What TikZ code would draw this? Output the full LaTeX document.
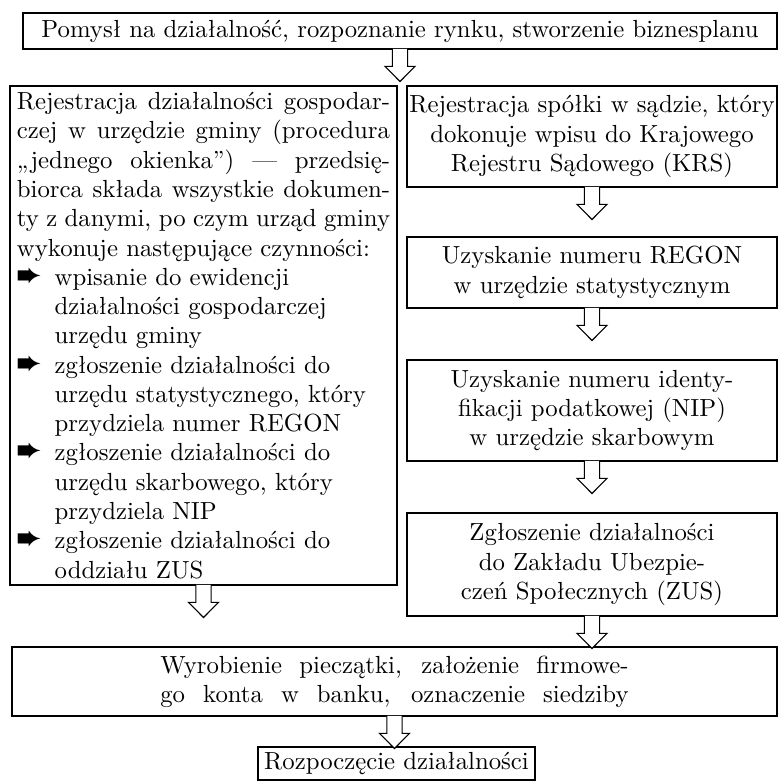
\documentclass[tikz,border=0pt]{standalone}
\usepackage{fontspec}
\usepackage{graphicx}
\usepackage{pifont}
\usetikzlibrary{calc}
\def\px{0.41pt}
\newcommand\myitem{\par\hangindent=15.5pt\hangafter=1\noindent\makebox[15.5pt][l]{\scalebox{1.12}{\ding{232}}}}
\tikzset{
  box/.style={draw, line width=0.45pt, inner sep=0pt, font=\fontsize{10.15pt}{12pt}\selectfont},
  blk/.style={draw, fill=white, line width=0.45pt, line join=miter,
    to path={let \p1=(\tikztostart) in
      (\x1-3.1pt,\y1+0.25pt) -- (\x1-3.1pt,\y1-6.9pt) -- (\x1-6.15pt,\y1-6.9pt) -- (\x1,\y1-13.1pt)
      -- (\x1+6.15pt,\y1-6.9pt) -- (\x1+3.1pt,\y1-6.9pt) -- (\x1+3.1pt,\y1+0.25pt)}},
}
\begin{document}
\begin{tikzpicture}[x=0.41pt,y=-0.41pt]
\useasboundingbox (0,0) rectangle (778,781);
\node[box, minimum width=754*\px, minimum height=36*\px] (top) at (400,31)
  {Pomysł na działalność, rozpoznanie rynku, stworzenie biznesplanu};
\node[box, minimum width=387*\px, minimum height=499*\px, text width=153pt, align=justify] (left) at (203.5,335.5)
  {\setlength{\parindent}{0pt}Rejestracja działalności gospodar-\linebreak czej w urzędzie gminy (procedura\linebreak „jednego okienka”) — przedsię-\linebreak biorca składa wszystkie dokumen-\linebreak ty z danymi, po czym urząd gminy\linebreak wykonuje następujące czynności:
  \myitem wpisanie do ewidencji\\działalności gospodarczej\\urzędu gminy
  \myitem zgłoszenie działalności do\\urzędu statystycznego, który\\przydziela numer REGON
  \myitem zgłoszenie działalności do\\urzędu skarbowego, który\\przydziela NIP
  \myitem zgłoszenie działalności do\\oddziału ZUS\par};
\node[box, minimum width=370*\px, minimum height=101*\px, align=center] (krs) at (592,136.5)
  {Rejestracja spółki w sądzie, który\\dokonuje wpisu do Krajowego\\Rejestru Sądowego (KRS)};
\node[box, minimum width=370*\px, minimum height=71*\px, align=center] (regon) at (592,272.5)
  {Uzyskanie numeru REGON\\w urzędzie statystycznym};
\node[box, minimum width=370*\px, minimum height=101*\px, align=center] (nip) at (592,410.5)
  {Uzyskanie numeru identy-\\fikacji podatkowej (NIP)\\w urzędzie skarbowym};
\node[box, minimum width=370*\px, minimum height=103*\px, align=center] (zus) at (592,564.5)
  {Zgłoszenie działalności\\do Zakładu Ubezpie-\\czeń Społecznych (ZUS)};
\node[box, minimum width=765*\px, minimum height=69*\px, align=center] (wyr) at (394.5,681.5)
  {\makebox[192pt][s]{Wyrobienie pieczątki, założenie firmowe-}\\\makebox[192pt][s]{go konta w banku, oznaczenie siedziby}};
\node[box, minimum width=277*\px, minimum height=33*\px] (start) at (396.5,763.5)
  {Rozpoczęcie działalności};
\draw[blk] (top.south) to (left.north);
\draw[blk] (krs.south) to (regon.north);
\draw[blk] (regon.south) to (nip.north);
\draw[blk] (nip.south) to (zus.north);
\draw[blk] (zus.south) to (wyr.north);
\draw[blk] (left.south) to (wyr.north);
\draw[blk] (wyr.south) to (start.north);
\end{tikzpicture}
\end{document}
